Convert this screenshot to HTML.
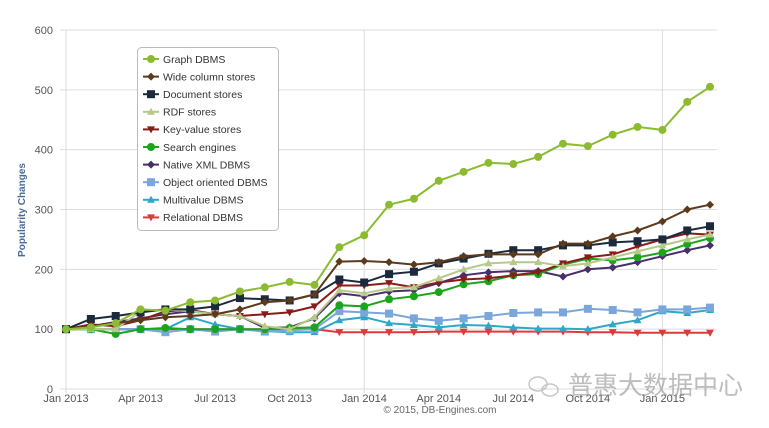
<!DOCTYPE html>
<html><head><meta charset="utf-8"><style>
html,body{margin:0;padding:0;background:#fff;width:769px;height:428px;overflow:hidden}
svg text{font-family:"Liberation Sans","Noto Sans CJK SC",sans-serif}
</style></head><body>
<svg id="c" width="769" height="428" xmlns="http://www.w3.org/2000/svg">
<rect width="769" height="428" fill="#fff"/>
<g id="grid" stroke="#dcdcdc" stroke-width="1"></g>
<g id="lbl" font-size="11" fill="#555"></g>
<text x="0" y="0" transform="translate(25,210) rotate(-90)" text-anchor="middle" font-size="10" font-weight="bold" fill="#4a6a9a">Popularity Changes</text>
<g id="series"></g>
<rect x="137.5" y="47.5" width="141" height="183" rx="4" fill="#fff" stroke="#bbb"/>
<g id="legend" font-size="10.5" fill="#333"></g>
<text x="440" y="413" text-anchor="middle" font-size="10" fill="#666">© 2015, DB-Engines.com</text>
<g opacity="0.55">
<ellipse cx="538" cy="384" rx="9" ry="7" fill="none" stroke="#999" stroke-width="1.5"/>
<ellipse cx="550" cy="390" rx="8" ry="6" fill="none" stroke="#999" stroke-width="1.5"/>
<text x="568" y="394" font-size="25" fill="#888" font-family="'Noto Sans CJK SC',sans-serif">普惠大数据中心</text>
</g>
</svg>
<script>
var ns="http://www.w3.org/2000/svg";
function el(t,a,p,txt){var e=document.createElementNS(ns,t);for(var k in a)e.setAttribute(k,a[k]);if(txt!=null)e.textContent=txt;p.appendChild(e);return e;}
var X0=66,DX=24.85,Y0=389,SY=0.5983;
function X(i){return i==26?710:X0+i*DX} function Y(v){return Y0-v*SY}
var g=document.getElementById('grid'),l=document.getElementById('lbl');
for(var v=0;v<=600;v+=100){el('line',{x1:60,x2:717,y1:Y(v),y2:Y(v)},g);el('text',{x:53,y:Y(v)+4,'text-anchor':'end'},l,v);}
[0,12,24].forEach(function(i){el('line',{x1:X(i),x2:X(i),y1:Y(600),y2:Y0+4},g);});
var xl=[["Jan 2013",0],["Apr 2013",3],["Jul 2013",6],["Oct 2013",9],["Jan 2014",12],["Apr 2014",15],["Jul 2014",18],["Oct 2014",21],["Jan 2015",24]];
xl.forEach(function(a){el('text',{x:X(a[1]),y:402,'text-anchor':'middle'},l,a[0]);});
var S=[
["Graph DBMS","#8cbb32","c",[100,103,110,133,131,145,148,163,170,179,174,237,257,308,318,348,363,378,376,388,410,406,425,438,433,480,505]],
["Wide column stores","#5c3a1b","d",[100,105,110,115,120,122,125,133,145,148,158,213,214,212,208,212,222,225,225,225,243,243,255,265,280,300,308]],
["Document stores","#1b2a3d","s",[100,117,122,128,133,133,138,152,150,148,158,183,178,192,196,210,218,226,232,232,240,240,245,247,250,265,272]],
["RDF stores","#b5c98a","t",[100,100,100,130,133,130,125,122,105,100,120,165,160,168,170,185,200,210,212,212,205,210,220,230,240,250,258]],
["Key-value stores","#8b1a1a","v",[100,108,105,115,130,132,125,122,125,128,138,173,173,177,170,178,183,185,190,195,210,220,225,238,250,260,258]],
["Search engines","#1aa51a","c",[100,100,92,100,102,100,100,100,100,102,103,140,138,150,155,162,175,180,190,192,208,218,215,220,228,242,252]],
["Native XML DBMS","#4a2e6b","d",[100,105,112,118,125,130,125,122,102,103,118,160,155,163,165,177,190,195,197,197,188,200,203,212,222,232,240]],
["Object oriented DBMS","#7aa6dc","s",[100,100,100,100,95,100,96,100,96,98,100,130,128,126,118,114,118,122,127,128,128,134,132,128,133,133,136]],
["Multivalue DBMS","#2fa8c8","t",[100,100,100,100,100,120,108,100,97,95,95,115,120,110,107,103,107,106,103,101,101,100,108,115,130,127,132]],
["Relational DBMS","#e0393b","v",[100,100,100,100,100,100,100,100,100,100,100,95,95,95,95,96,96,96,96,96,96,95,95,94,94,94,94]]];
function mk(sh,x,y,c,p){
 if(sh=='c')el('circle',{cx:x,cy:y,r:4,fill:c},p);
 else if(sh=='s')el('rect',{x:x-4,y:y-4,width:8,height:8,fill:c},p);
 else if(sh=='d')el('path',{d:'M'+x+' '+(y-4)+'L'+(x+4)+' '+y+'L'+x+' '+(y+4)+'L'+(x-4)+' '+y+'Z',fill:c},p);
 else if(sh=='t')el('path',{d:'M'+x+' '+(y-4)+'L'+(x+4)+' '+(y+3)+'L'+(x-4)+' '+(y+3)+'Z',fill:c},p);
 else el('path',{d:'M'+x+' '+(y+4)+'L'+(x+4)+' '+(y-3)+'L'+(x-4)+' '+(y-3)+'Z',fill:c},p);
}
var sg=document.getElementById('series'),lg=document.getElementById('legend');
for(var k=S.length-1;k>=0;k--){var s=S[k],d='';
 s[3].forEach(function(v,i){d+=(i?'L':'M')+X(i).toFixed(1)+' '+Y(v).toFixed(1);});
 el('path',{d:d,fill:'none',stroke:s[1],'stroke-width':2},sg);
 s[3].forEach(function(v,i){mk(s[2],X(i),Y(v),s[1],sg);});
}
S.forEach(function(s,k){var y=59+k*17.6;
 el('line',{x1:143,x2:159,y1:y,y2:y,stroke:s[1],'stroke-width':2},lg);
 mk(s[2],151,y,s[1],lg);
 el('text',{x:163,y:y+3.8},lg,s[0]);});
</script>
</body></html>
